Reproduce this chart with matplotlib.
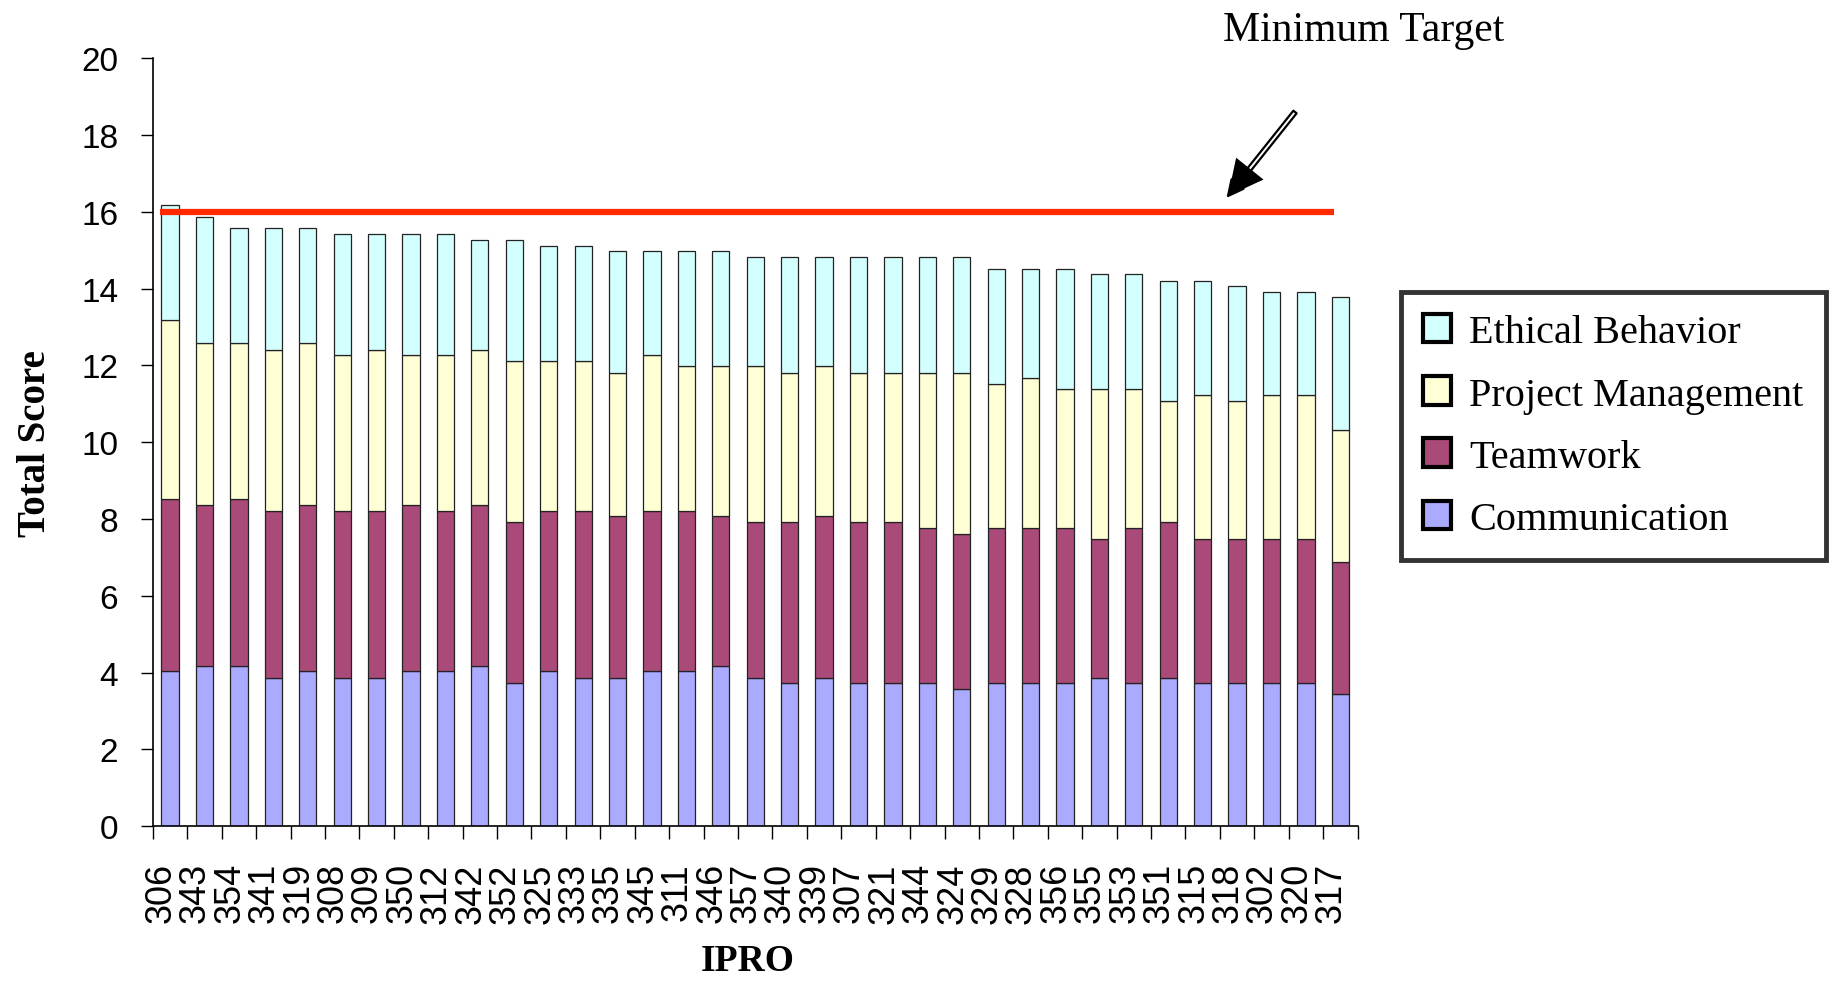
import matplotlib
matplotlib.use("Agg")
import matplotlib.pyplot as plt
import matplotlib.transforms as mtransforms
from matplotlib.patches import Patch
import numpy as np

# IPRO teams, sorted by total score
ipro = ["306", "343", "354", "341", "319", "308", "309", "350", "312", "342",
        "352", "325", "333", "335", "345", "311", "346", "357", "340", "339",
        "307", "321", "344", "324", "329", "328", "356", "355", "353", "351",
        "315", "318", "302", "320", "317"]

communication = [4.04, 4.16, 4.16, 3.86, 4.04, 3.86, 3.86, 4.04, 4.04, 4.16,
                 3.72, 4.04, 3.86, 3.86, 4.04, 4.04, 4.16, 3.86, 3.72, 3.86,
                 3.72, 3.72, 3.72, 3.57, 3.72, 3.72, 3.72, 3.86, 3.72, 3.86,
                 3.72, 3.72, 3.72, 3.72, 3.43]
teamwork = [4.49, 4.21, 4.37, 4.36, 4.33, 4.36, 4.36, 4.33, 4.18, 4.21,
            4.21, 4.18, 4.36, 4.22, 4.18, 4.18, 3.92, 4.07, 4.21, 4.22,
            4.21, 4.21, 4.05, 4.05, 4.05, 4.05, 4.05, 3.62, 4.05, 4.07,
            3.76, 3.76, 3.76, 3.76, 3.45]
project_mgmt = [4.65, 4.20, 4.04, 4.19, 4.20, 4.05, 4.19, 3.90, 4.05, 4.04,
                4.19, 3.90, 3.90, 3.73, 4.05, 3.76, 3.90, 4.05, 3.88, 3.90,
                3.88, 3.88, 4.04, 4.19, 3.75, 3.90, 3.61, 3.90, 3.61, 3.14,
                3.74, 3.59, 3.74, 3.74, 3.44]
ethical = [2.99, 3.29, 3.00, 3.16, 3.00, 3.14, 3.00, 3.14, 3.14, 2.85,
           3.14, 2.99, 2.99, 3.16, 2.70, 2.99, 2.99, 2.85, 3.02, 2.85,
           3.02, 3.02, 3.02, 3.02, 3.00, 2.85, 3.14, 2.99, 2.99, 3.14,
           2.99, 3.00, 2.70, 2.70, 3.45]

series = [("Communication", communication, "#AAAAFF"),
          ("Teamwork", teamwork, "#A94A78"),
          ("Project Management", project_mgmt, "#FFFFD6"),
          ("Ethical Behavior", ethical, "#D4FFFF")]

target = 16
target_span = (-0.3, 33.83)

fig = plt.figure(figsize=(18.42, 9.87), dpi=100)
ax = fig.add_axes([0.083, 0.162, 0.654, 0.778])

x = np.arange(len(ipro))
bottom = np.zeros(len(ipro))
for name, vals, col in series:
    ax.bar(x, vals, width=0.5, bottom=bottom, color=col,
           edgecolor="#222222", linewidth=0.9, label=name)
    bottom += np.array(vals)

# minimum target line
ax.plot(target_span, [target, target], color="#FF2A00", lw=4.5,
        solid_capstyle="butt")

ax.set_xlim(-0.5, len(ipro) - 0.5)
ax.set_ylim(0, 20)
ax.set_yticks(range(0, 21, 2))
ax.set_xticks(x)
ax.set_xticklabels(ipro, rotation=90, fontsize=26, family="Liberation Sans",
                   va="top", ha="center")
ax.set_xticks(np.arange(-0.5, len(ipro)), minor=True)
ax.tick_params(axis="x", which="major", length=0, pad=26)
ax.tick_params(axis="x", which="minor", length=9, width=1, direction="out")
ax.tick_params(axis="y", length=9, width=1, direction="out", pad=16,
               labelsize=24)
for lbl in ax.get_yticklabels():
    lbl.set_family("Liberation Sans")

# excel puts the rotated labels a bit left of the bar
shift = mtransforms.ScaledTranslation(-9 / 100, 0, fig.dpi_scale_trans)
for lbl in ax.get_xticklabels():
    lbl.set_transform(lbl.get_transform() + shift)

for s in ["top", "right"]:
    ax.spines[s].set_visible(False)
ax.spines["left"].set_linewidth(1.2)
ax.spines["bottom"].set_linewidth(1.2)

ax.set_ylabel("Total Score", fontsize=28, fontweight="bold",
              family="Liberation Serif")
ax.yaxis.set_label_coords(-0.082, 0.5)
ax.set_xlabel("IPRO", fontsize=27, fontweight="bold", family="Liberation Serif")
ax.xaxis.set_label_coords(0.494, -0.152)

# legend, top entry first
handles = [Patch(facecolor=col, edgecolor="black", linewidth=3, label=name)
           for name, vals, col in reversed(series)]
leg = fig.legend(handles=handles, loc="upper left",
                 bbox_to_anchor=(1401 / 1842, 1 - 293 / 987),
                 bbox_transform=fig.transFigure, frameon=True, fancybox=False,
                 prop={"family": "Liberation Serif", "size": 29},
                 handlelength=0.7, handleheight=0.7, handletextpad=0.45,
                 labelspacing=0.62, borderpad=0.55, borderaxespad=0)
leg.get_frame().set_edgecolor("black")
leg.get_frame().set_linewidth(3.5)

# annotation
fig.text(1364 / 1842, 1 - 41 / 987, "Minimum Target", ha="center",
         va="baseline", fontsize=30, family="Liberation Serif")
tip = (1228 / 1842, 1 - 197 / 987)
tail = (1295 / 1842, 1 - 113 / 987)
ax.annotate("", xy=tip, xytext=tail,
            xycoords="figure fraction", textcoords="figure fraction",
            arrowprops=dict(arrowstyle="simple,head_length=1.1,head_width=1.1,tail_width=0.3",
                            fc="white", ec="black", lw=1.6, shrinkA=0, shrinkB=0))
# solid head like the original block arrow
head_from = (tip[0] + 0.25 * (tail[0] - tip[0]), tip[1] + 0.25 * (tail[1] - tip[1]))
ax.annotate("", xy=tip, xytext=head_from,
            xycoords="figure fraction", textcoords="figure fraction",
            arrowprops=dict(arrowstyle="-|>,head_length=0.9,head_width=0.45",
                            fc="black", ec="black", lw=0, mutation_scale=28,
                            shrinkA=0, shrinkB=0))

fig.savefig("out.png", dpi=100)
